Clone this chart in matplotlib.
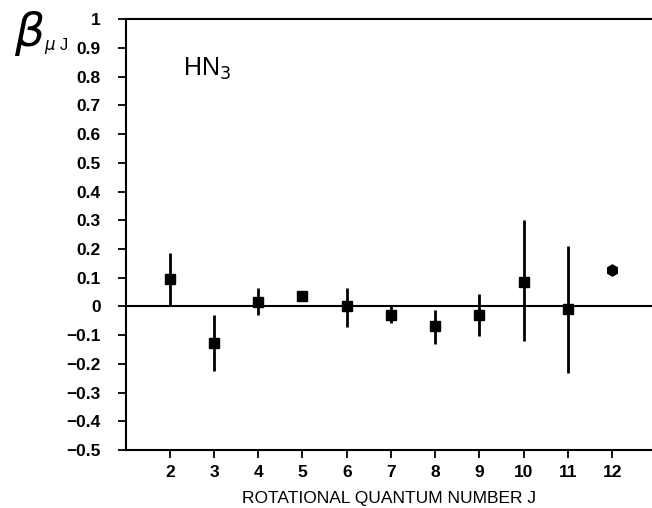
import matplotlib.pyplot as plt
import numpy as np

plt.rcParams['font.family'] = ['Liberation Sans', 'DejaVu Sans']

# beta_muJ vs rotational quantum number J for HN3
J = [2, 3, 4, 5, 6, 7, 8, 9, 10, 11, 12]
beta = [0.095, -0.126, 0.016, 0.036, 0.0, -0.03, -0.069, -0.03, 0.086, -0.01, 0.126]
err_low = [0.095, 0.097, 0.046, 0.01, 0.07, 0.026, 0.062, 0.073, 0.206, 0.22, 0.01]
err_high = [0.09, 0.096, 0.047, 0.01, 0.066, 0.03, 0.056, 0.073, 0.214, 0.22, 0.01]

fig = plt.figure(figsize=(6.52, 5.08), dpi=100)
ax = fig.add_axes([0.1925, 0.114, 0.8075, 0.848])

ax.axhline(0, color='black', lw=1.5, zorder=1)

# all points but the last drawn as squares with error bars
ax.errorbar(J[:-1], beta[:-1], yerr=[err_low[:-1], err_high[:-1]], fmt='s',
            color='black', ms=7, elinewidth=2, capsize=0, zorder=3)
ax.errorbar(J[-1:], beta[-1:], yerr=[err_low[-1:], err_high[-1:]], fmt='h',
            color='black', ms=8, elinewidth=2, capsize=0, zorder=3)

ax.set_xlim(1, 12.9)
ax.set_ylim(-0.5, 1.0)
ax.set_xticks(J)
ax.set_xticklabels([str(j) for j in J])
ax.set_yticks(np.round(np.arange(-0.5, 1.01, 0.1), 1))
ax.set_yticklabels(['\u22120.5', '\u22120.4', '\u22120.3', '\u22120.2', '\u22120.1', '0',
                    '0.1', '0.2', '0.3', '0.4', '0.5', '0.6', '0.7', '0.8', '0.9', '1'])

for side in ['left', 'bottom', 'top']:
    ax.spines[side].set_linewidth(1.5)
ax.spines['right'].set_visible(False)
ax.tick_params(axis='both', direction='out', length=6, width=1.3, labelsize=12.5)
ax.tick_params(axis='y', pad=12)
ax.tick_params(axis='x', pad=5)
for lbl in ax.get_xticklabels() + ax.get_yticklabels():
    lbl.set_fontweight('semibold')

ax.set_xlabel('ROTATIONAL QUANTUM NUMBER J', fontsize=12.5, labelpad=8)

ax.text(0.11, 0.885, r'HN$_3$', transform=ax.transAxes, fontsize=18,
        ha='left', va='center')
fig.text(0.022, 0.935, r'$\beta$', fontsize=34, ha='left', va='center')
fig.text(0.068, 0.91, r'$\mu$ J', fontsize=12, ha='left', va='center')

fig.savefig('out.png', dpi=100)
